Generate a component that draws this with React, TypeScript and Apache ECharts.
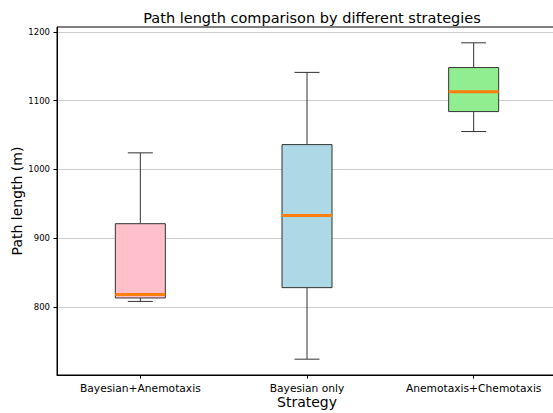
import React, { useEffect, useRef } from "react";
import * as echarts from "echarts";

// Strategies compared
const categories = ["Bayesian+Anemotaxis", "Bayesian only", "Anemotaxis+Chemotaxis"];

// Five-number summaries (m)
const whiskerLow = [808, 724, 1055];
const quartile1 = [813, 828, 1084];
const medians = [818, 933, 1113];
const quartile3 = [921, 1036, 1148];
const whiskerHigh = [1024, 1141, 1184];

// Y axis tick values
const yTicks = [800, 900, 1000, 1100, 1200];

const boxColors = ["#ffc0cb", "#add8e6", "#90ee90"];
const FONT = "DejaVu Sans";

export default function App() {
  const ref = useRef<HTMLDivElement>(null);

  useEffect(() => {
    if (!ref.current) return;
    const chart = echarts.init(ref.current, undefined, { renderer: "svg" });

    const data = categories.map((_, i) => [
      i,
      whiskerLow[i],
      quartile1[i],
      medians[i],
      quartile3[i],
      whiskerHigh[i],
    ]);

    const edge = "#333333";

    chart.setOption({
      animation: false,
      backgroundColor: "#ffffff",
      title: {
        text: "Path length comparison by different strategies",
        left: 307,
        top: 5,
        textAlign: "center",
        textStyle: { fontFamily: FONT, fontSize: 14.5, fontWeight: "normal", color: "#000" },
      },
      grid: {
        left: 57,
        top: 27,
        width: 500,
        height: 348,
        outerBoundsMode: "none",
        containLabel: false,
        show: true,
        borderColor: "#000",
        borderWidth: 1,
        backgroundColor: "transparent",
      },
      xAxis: {
        type: "category",
        data: categories,
        boundaryGap: true,
        name: "Strategy",
        nameLocation: "middle",
        nameGap: 19.5,
        nameMoveOverlap: false,
        nameTextStyle: { fontFamily: FONT, fontSize: 14, color: "#000" },
        axisLine: { lineStyle: { color: "#000", width: 1 } },
        axisTick: { show: true, alignWithLabel: true, length: 3.5, lineStyle: { color: "#000" } },
        axisLabel: { fontFamily: FONT, fontSize: 10.7, color: "#000", margin: 7.5, interval: 0 },
        splitLine: { show: false },
      },
      yAxis: {
        type: "value",
        min: 701,
        max: 1207,
        name: "Path length (m)",
        nameLocation: "middle",
        nameGap: 33,
        nameMoveOverlap: false,
        nameTextStyle: { fontFamily: FONT, fontSize: 14, color: "#000" },
        axisLine: { show: true, lineStyle: { color: "#000", width: 1 } },
        axisTick: { show: true, length: 3.5, customValues: yTicks, lineStyle: { color: "#000" } },
        axisLabel: {
          fontFamily: FONT,
          fontSize: 8.5,
          color: "#000",
          margin: 7,
          customValues: yTicks,
          formatter: (v: number) => String(v),
        },
        splitLine: { show: true, lineStyle: { color: "#cccccc", width: 1 } },
      },
      series: [
        {
          type: "custom",
          data,
          encode: { x: 0, y: [1, 2, 3, 4, 5] },
          renderItem: (params: any, api: any) => {
            const i = api.value(0);
            const band = api.size([1, 0])[0];
            const bw = band * 0.3;
            const cw = bw / 2;
            const lo = api.coord([i, api.value(1)]);
            const q1 = api.coord([i, api.value(2)]);
            const md = api.coord([i, api.value(3)]);
            const q3 = api.coord([i, api.value(4)]);
            const hi = api.coord([i, api.value(5)]);
            const cx = lo[0];
            const lineStyle = { stroke: edge, lineWidth: 1 };
            return {
              type: "group",
              children: [
                { type: "line", shape: { x1: cx, y1: q3[1], x2: cx, y2: hi[1] }, style: lineStyle },
                { type: "line", shape: { x1: cx, y1: q1[1], x2: cx, y2: lo[1] }, style: lineStyle },
                { type: "line", shape: { x1: cx - cw / 2, y1: hi[1], x2: cx + cw / 2, y2: hi[1] }, style: lineStyle },
                { type: "line", shape: { x1: cx - cw / 2, y1: lo[1], x2: cx + cw / 2, y2: lo[1] }, style: lineStyle },
                {
                  type: "rect",
                  shape: { x: cx - bw / 2, y: q3[1], width: bw, height: q1[1] - q3[1] },
                  style: { fill: boxColors[params.dataIndex], stroke: edge, lineWidth: 1 },
                },
                {
                  type: "line",
                  shape: { x1: cx - bw / 2, y1: md[1], x2: cx + bw / 2, y2: md[1] },
                  style: { stroke: "#ff7f0e", lineWidth: 3 },
                },
              ],
            };
          },
        },
      ],
    });

    return () => chart.dispose();
  }, []);

  return (
    <div
      ref={ref}
      style={{ position: "absolute", left: 0, top: 0, width: 553, height: 413 }}
    />
  );
}
